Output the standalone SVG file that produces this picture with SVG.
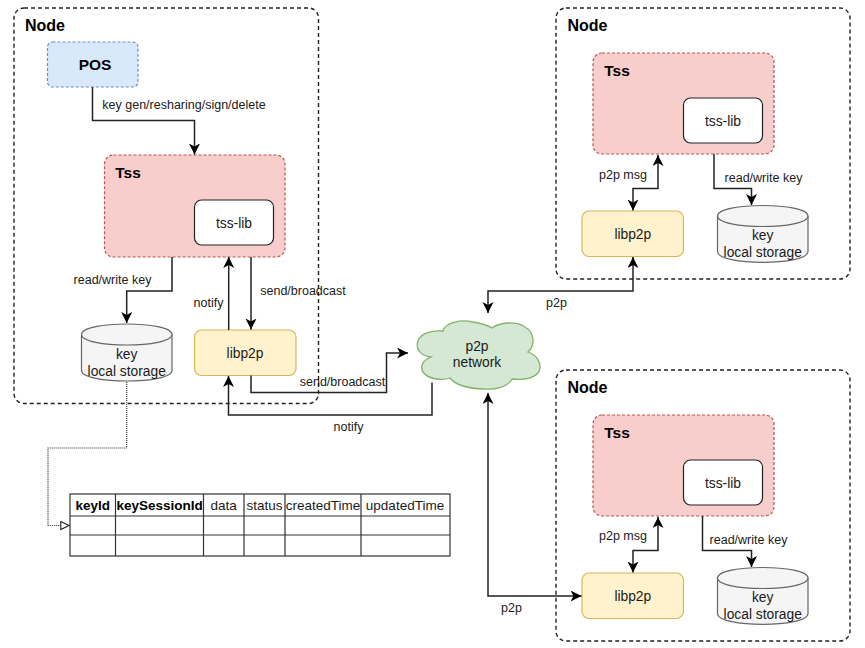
<svg xmlns="http://www.w3.org/2000/svg" width="865" height="648" viewBox="0 0 865 648">
<style>
text{font-family:"Liberation Sans",Arial,sans-serif;fill:#1a1a1a;text-anchor:middle}
.l{font-size:12.500px}
.t{font-size:13.800px}
.k{font-size:13.500px}
.b{font-size:15.500px;font-weight:bold;fill:#000}
.h{font-size:16px;font-weight:bold;fill:#000;text-anchor:start}
.node{fill:#fff;fill-opacity:0;stroke:#222;stroke-width:1.400;stroke-dasharray:4 3}
.tss{fill:#f8cecc;stroke:#b85450;stroke-width:1.200;stroke-dasharray:3 2}
.lib{fill:#fff;stroke:#222;stroke-width:1.200}
.p2p{fill:#fff2cc;stroke:#d6b656;stroke-width:1.200}
.cyl{fill:#f5f5f5;stroke:#666;stroke-width:1.200}
.c{fill:none;stroke:#222;stroke-width:1.500}
.grid{fill:none;stroke:#333;stroke-width:1.200}
</style>
<defs>
<marker id="a" markerWidth="13" markerHeight="12" refX="11" refY="5.500" orient="auto-start-reverse" markerUnits="userSpaceOnUse"><path d="M0 0L11 5.500L0 11L3 5.500Z" fill="#000"/></marker>
<marker id="o" markerWidth="12" markerHeight="11" refX="9.500" refY="5" orient="auto" markerUnits="userSpaceOnUse"><path d="M0.800 1L9 5L0.800 9Z" fill="#fff" stroke="#222" stroke-width="1.100"/></marker>
</defs>

<g id="node-left"><rect class="node" x="14" y="8" width="304.500" height="395.500" rx="10"/><text class="h" x="25" y="31">Node</text></g>
<g id="node-top-right"><rect class="node" x="556" y="8" width="294" height="271" rx="10"/><text class="h" x="567.500" y="31">Node</text></g>
<g id="node-bottom-right"><rect class="node" x="556" y="370" width="294" height="271" rx="10"/><text class="h" x="567.500" y="393">Node</text></g>

<g id="pos"><rect x="47.500" y="42" width="90.500" height="45" rx="5" fill="#dae8fc" stroke="#6c8ebf" stroke-width="1.200" stroke-dasharray="3 2"/><text class="b" x="95" y="70">POS</text></g>

<g id="tss-left"><rect class="tss" x="104.500" y="155" width="180.500" height="102" rx="9"/><text class="b" x="128" y="178">Tss</text></g>
<g id="tsslib-left"><rect class="lib" x="194.500" y="200" width="79" height="45" rx="7"/><text class="t" x="234" y="228">tss-lib</text></g>
<g id="libp2p-left"><rect class="p2p" x="194.500" y="330" width="101.500" height="45.500" rx="7"/><text class="t" x="245" y="358">libp2p</text></g>
<g id="storage-left"><path class="cyl" d="M81.500 334.500C81.500 320.500 172 320.500 172 334.500V370.500C172 384.500 81.500 384.500 81.500 370.500Z"/><path class="cyl" d="M81.500 334.500C81.500 348.500 172 348.500 172 334.500" fill="none"/><text class="t" x="126.700" y="359">key</text><text class="t" x="126.700" y="376">local storage</text></g>

<g id="tss-top"><rect class="tss" x="593" y="53" width="181" height="101" rx="9"/><text class="b" x="617" y="76">Tss</text></g>
<g id="tsslib-top"><rect class="lib" x="683.500" y="98" width="79" height="45" rx="7"/><text class="t" x="723" y="126">tss-lib</text></g>
<g id="libp2p-top"><rect class="p2p" x="582" y="211" width="101.500" height="45.500" rx="7"/><text class="t" x="632.800" y="239">libp2p</text></g>
<g id="storage-top"><path class="cyl" d="M717.500 216C717.500 202 808 202 808 216V251.500C808 266 717.500 266 717.500 251.500Z"/><path class="cyl" d="M717.500 216C717.500 230 808 230 808 216" fill="none"/><text class="t" x="762.700" y="240">key</text><text class="t" x="762.700" y="257">local storage</text></g>

<g id="tss-bottom"><rect class="tss" x="593" y="415" width="181" height="101" rx="9"/><text class="b" x="617" y="438">Tss</text></g>
<g id="tsslib-bottom"><rect class="lib" x="683.500" y="460" width="79" height="45" rx="7"/><text class="t" x="723" y="488">tss-lib</text></g>
<g id="libp2p-bottom"><rect class="p2p" x="582" y="573" width="101.500" height="45.500" rx="7"/><text class="t" x="632.800" y="601">libp2p</text></g>
<g id="storage-bottom"><path class="cyl" d="M717.500 578C717.500 564 808 564 808 578V613.500C808 628 717.500 628 717.500 613.500Z"/><path class="cyl" d="M717.500 578C717.500 592 808 592 808 578" fill="none"/><text class="t" x="762.700" y="602">key</text><text class="t" x="762.700" y="619">local storage</text></g>

<g id="cloud"><path d="M443 331C445 323 460 319 473 322C480 323 487 325 492 328C500 322 516 321 525 327C534 332 536 345 528 352C538 355 543 366 538 373C533 379 522 380 512 379C508 387 495 390 484 389C472 389 456 386 450 378C441 381 428 379 423 372C420 366 422 361 431 357C421 356 415 349 418 341C421 333 432 330 443 331Z" fill="#d5e8d4" stroke="#82b366" stroke-width="1.300"/><text class="t" x="477" y="351">p2p</text><text class="t" x="477" y="367">network</text></g>

<g id="connectors">
<path class="c" d="M92.500 87V120.500H194.500V154.500" marker-end="url(#a)"/>
<path class="c" d="M172 257V291H126.700V323" marker-end="url(#a)"/>
<path class="c" d="M228.700 330V257" marker-end="url(#a)"/>
<path class="c" d="M251 257V329.500" marker-end="url(#a)"/>
<path class="c" d="M251 375.500V392.500H386.500V353H408" marker-end="url(#a)"/>
<path class="c" d="M432 382.500V415H228.500V376" marker-end="url(#a)"/>
<path d="M126.700 382V448H48V525.500H69.500" fill="none" stroke="#333" stroke-width="1.200" stroke-dasharray="1 1" marker-end="url(#o)"/>
<path class="c" d="M658 155V188.500H633V210.500" marker-start="url(#a)" marker-end="url(#a)"/>
<path class="c" d="M714 154V188.500H751.500V205" marker-end="url(#a)"/>
<path class="c" d="M633 257V291H488V313" marker-start="url(#a)" marker-end="url(#a)"/>
<path class="c" d="M658 517V550.500H633V572.500" marker-start="url(#a)" marker-end="url(#a)"/>
<path class="c" d="M702.500 516V550.500H751.500V567" marker-end="url(#a)"/>
<path class="c" d="M488 393V596H581.500" marker-start="url(#a)" marker-end="url(#a)"/>
</g>

<g id="connector-labels">
<text class="l" x="184" y="108.500">key gen/resharing/sign/delete</text>
<text class="l" x="112.500" y="284">read/write key</text>
<text class="l" x="208.500" y="306.500">notify</text>
<text class="l" x="303" y="295">send/broadcast</text>
<text class="l" x="342.500" y="386">send/broadcast</text>
<text class="l" x="348.500" y="431">notify</text>
<text class="l" x="623" y="179">p2p msg</text>
<text class="l" x="763.500" y="182">read/write key</text>
<text class="l" x="556.500" y="307">p2p</text>
<text class="l" x="623" y="540">p2p msg</text>
<text class="l" x="748.500" y="544">read/write key</text>
<text class="l" x="511.500" y="612">p2p</text>
</g>

<g id="table">
<rect class="grid" x="70" y="494" width="380" height="62"/>
<path class="grid" d="M70 516H450M70 535H450M115.500 494V556M203.500 494V556M244 494V556M285 494V556M361 494V556"/>
<text class="k" x="92.700" y="510" style="font-weight:bold;fill:#000">keyId</text>
<text class="k" x="159.700" y="510" style="font-weight:bold;fill:#000">keySessionId</text>
<text class="k" x="223.700" y="510">data</text>
<text class="k" x="264.500" y="510">status</text>
<text class="k" x="323" y="510">createdTime</text>
<text class="k" x="405" y="510">updatedTime</text>
</g>
</svg>
